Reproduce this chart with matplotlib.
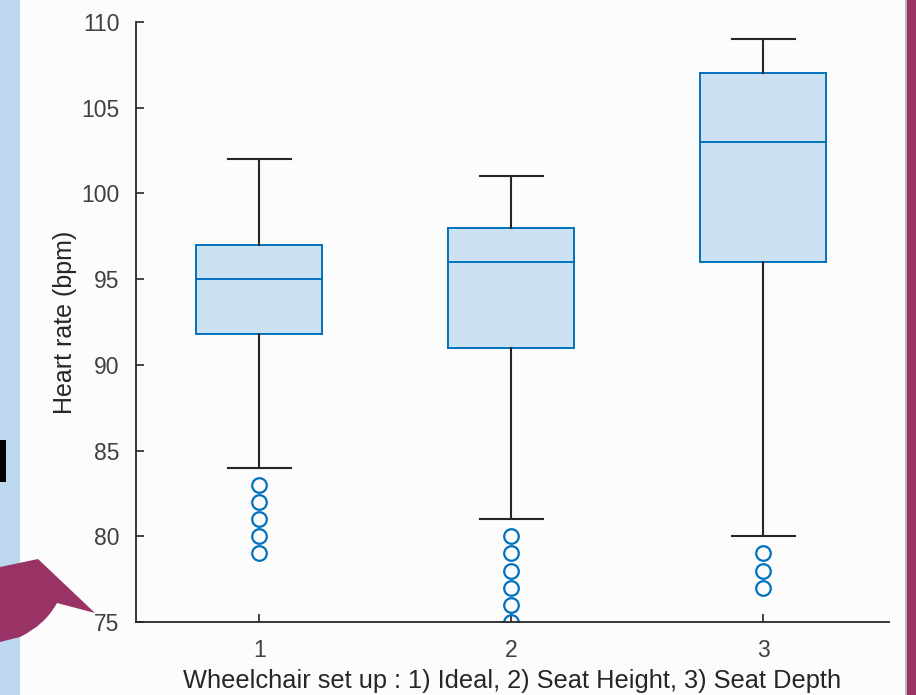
import matplotlib.pyplot as plt
from matplotlib.patches import Rectangle, PathPatch
from matplotlib.path import Path

plt.rcParams['font.family'] = ['Liberation Sans', 'DejaVu Sans']

# box statistics (bpm)
groups = [1, 2, 3]
q1 = [91.8, 91.0, 96.0]
medians = [95.0, 96.0, 103.0]
q3 = [97.0, 98.0, 107.0]
whisker_low = [84.0, 81.0, 80.0]
whisker_high = [102.0, 101.0, 109.0]
outliers = [
    [83, 82, 81, 80, 79],
    [80, 79, 78, 77, 76, 75],
    [79, 78, 77],
]
tick_labels = ['1', '2', '3']
yticks = [75, 80, 85, 90, 95, 100, 105, 110]

box_edge = '#0072BD'
box_face = '#CCE1F1'
dark = '#262626'

stats = []
for i in range(len(groups)):
    stats.append({
        'med': medians[i], 'q1': q1[i], 'q3': q3[i],
        'whislo': whisker_low[i], 'whishi': whisker_high[i],
        'fliers': outliers[i], 'label': tick_labels[i],
    })

fig = plt.figure(figsize=(9.16, 6.95), dpi=100)
fig.patch.set_facecolor('#FCFCFC')


def px(x, y):
    # pixel position in the 916x695 picture -> figure fraction
    return (x / 916, 1 - y / 695)


# slide decorations around the pasted chart
fig.add_artist(Rectangle((0, 0), 20 / 916, 1, transform=fig.transFigure,
                         facecolor='#BDD7EE', edgecolor='none', zorder=0))
fig.add_artist(Rectangle((907 / 916, 0), 9 / 916, 1, transform=fig.transFigure,
                         facecolor='#993366', edgecolor='none', zorder=0))
fig.add_artist(Rectangle((905 / 916, 0), 2 / 916, 1, transform=fig.transFigure,
                         facecolor='#B8B8C8', edgecolor='none', zorder=0))
fig.add_artist(Rectangle(px(0, 482), 6 / 916, 42 / 695, transform=fig.transFigure,
                         facecolor='black', edgecolor='none', zorder=1))

verts = [px(0, 567), px(38, 559), px(95, 613), px(57, 603),
         px(45, 625), px(20, 637), px(0, 642), px(0, 567)]
codes = [Path.MOVETO, Path.LINETO, Path.LINETO, Path.LINETO,
         Path.CURVE3, Path.CURVE3, Path.LINETO, Path.CLOSEPOLY]
fig.add_artist(PathPatch(Path(verts, codes), transform=fig.transFigure,
                         facecolor='#993366', edgecolor='none', zorder=1))

ax = fig.add_axes([136 / 916, 1 - 622 / 695, (889 - 136) / 916, (622 - 22) / 695])
ax.set_facecolor('#FCFCFC')

ax.bxp(stats, positions=groups, widths=0.5, patch_artist=True,
       boxprops=dict(facecolor=box_face, edgecolor=box_edge, linewidth=1.4),
       medianprops=dict(color=box_edge, linewidth=1.4),
       whiskerprops=dict(color=dark, linewidth=1.5),
       capprops=dict(color=dark, linewidth=1.5),
       capwidths=0.25,
       flierprops=dict(marker='o', markerfacecolor='none', markeredgecolor=box_edge,
                       markersize=10.5, markeredgewidth=1.6, linestyle='none'))

ax.set_xlim(0.51, 3.5)
ax.set_ylim(75, 110)
ax.set_yticks(yticks)
ax.set_xticks(groups)
ax.set_xticklabels(tick_labels)

for side in ['top', 'right']:
    ax.spines[side].set_visible(False)
for side in ['left', 'bottom']:
    ax.spines[side].set_color(dark)
    ax.spines[side].set_linewidth(1.3)

ax.tick_params(direction='in', length=6, width=1.2, colors=dark, labelsize=16.5,
               labelcolor='#404040')
ax.tick_params(axis='x', pad=12)
ax.tick_params(axis='y', pad=12)

ax.set_ylabel('Heart rate (bpm)', fontsize=18, color='#262626', labelpad=3)
ax.set_xlabel('Wheelchair set up : 1) Ideal, 2) Seat Height, 3) Seat Depth',
              fontsize=18.3, color='#262626', labelpad=5)

fig.savefig('out.png', dpi=100, facecolor=fig.get_facecolor())
